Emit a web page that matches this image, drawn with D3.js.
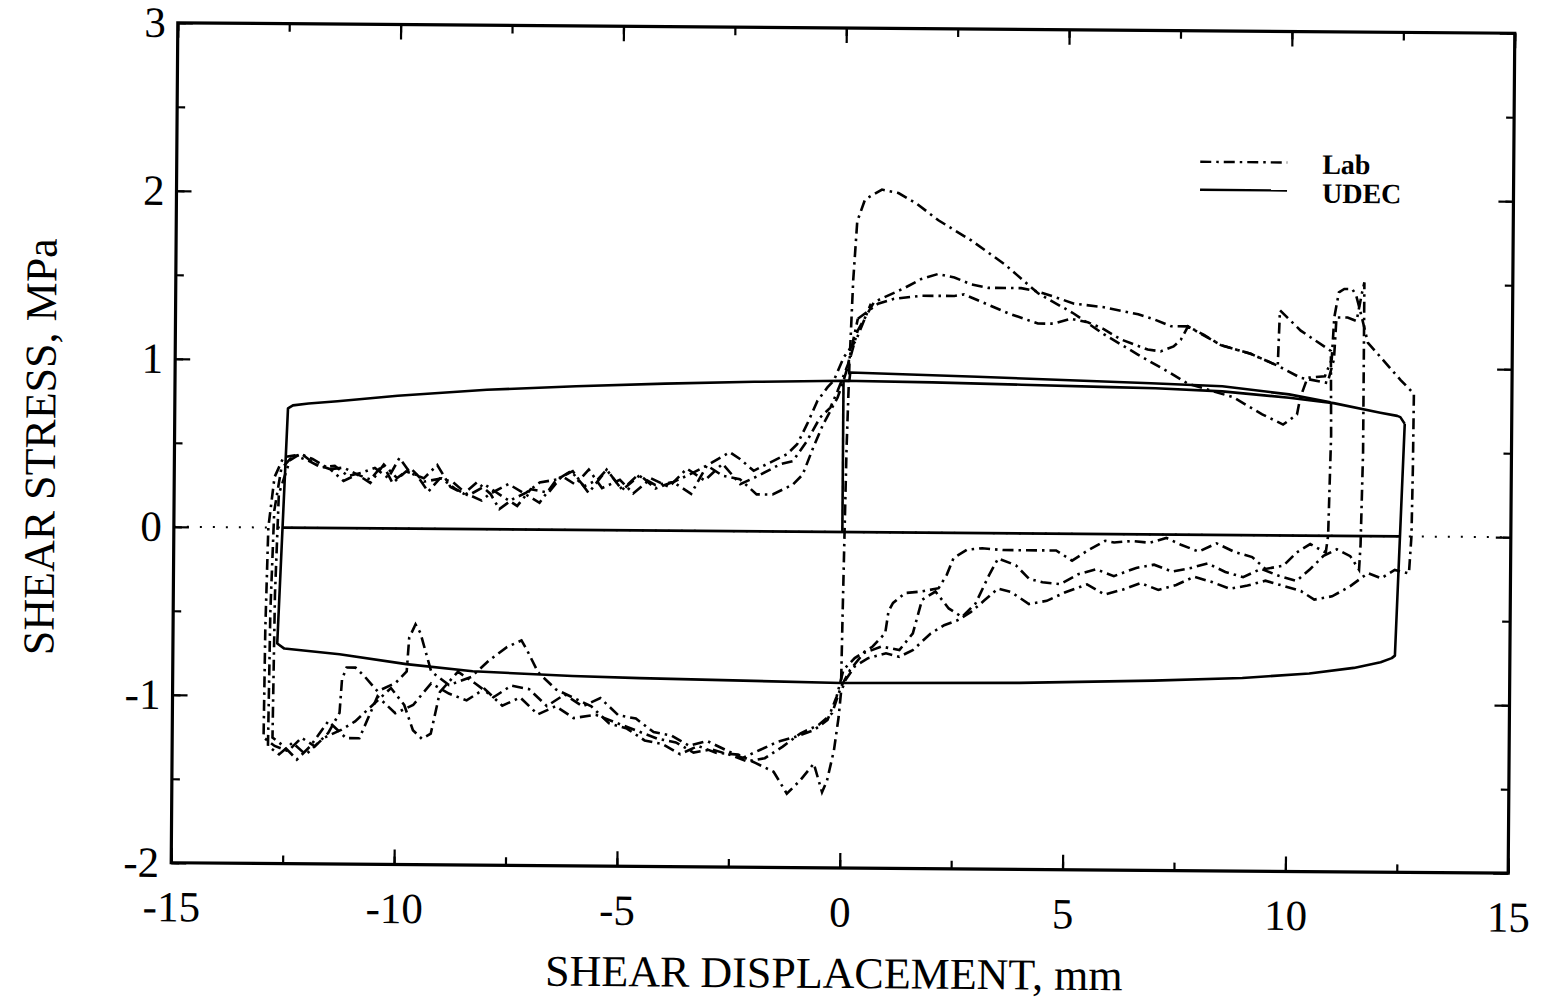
<!DOCTYPE html>
<html><head><meta charset="utf-8">
<script src="https://cdn.jsdelivr.net/npm/d3@7"></script>
<style>body{margin:0;background:#fff}svg{display:block}</style>
</head><body>
<script>
// ---------------- data ----------------
const xTicks = [-15, -10, -5, 0, 5, 10, 15];
const yTicks = [-2, -1, 0, 1, 2, 3];
const legendLabels = ["Lab", "UDEC"];

// UDEC (solid)
const udecLoop = [[12.6,0.67],[12.5,0.71],[12.43,0.717],[12.05,0.735],[11,0.79],[10,0.82],[8.5,0.855],[7,0.87],[6,0.875],[4,0.885],[2,0.895],[0,0.9],[-2,0.89],[-4,0.875],[-6,0.855],[-8,0.83],[-10,0.79],[-11.35,0.755],[-12,0.74],[-12.35,0.728],[-12.46,0.71],
  [-12.66,-0.69],[-12.5,-0.72],[-11.26,-0.751],[-9.76,-0.807],[-8.27,-0.846],[-6.03,-0.87],[-4.52,-0.879],[0,-0.899],[4,-0.89],[7,-0.87],[9,-0.85],[10.5,-0.82],[11.5,-0.785],[12.1,-0.75],[12.35,-0.725],[12.42,-0.71],[12.6,0.67]];
const udecUpper = [[0.0,0.9],[0.13,0.9],[0.15,0.95],[3,0.93],[6.9,0.9],[8.5,0.885],[10,0.84],[10.93,0.795]];
const udecStart = [[0,0],[0,0.9]];
const udecZero = [[-12.56,0],[12.52,0]];

// Lab (dash-dot), three cycles
const lab1 = [[0.0,-0.88],[0.02,-0.5],[0.05,0.0],[0.08,0.5],[0.13,1.0],[0.2,1.5],[0.28,1.85],[0.45,1.98],[0.83,2.04],[1.2,2.02],[1.6,1.96],[2.1,1.86],[2.85,1.74],[3.6,1.6],[4.35,1.43],[5.16,1.31],[5.83,1.19],[6.6,1.07],[7.34,0.96],[7.72,0.9],[8.75,0.82],[9.4,0.72],[9.87,0.66],[10.18,0.72],[10.25,0.82],[10.41,0.94],[10.8,0.95],[10.95,1.05],[11.0,1.3],[11.1,1.45],[11.22,1.47],[11.4,1.47],[11.49,1.43],[11.62,1.3],[11.76,1.15],[12.1,1.05],[12.5,0.93],[12.8,0.85],[12.79,0.4],[12.77,0.0],[12.72,-0.22],
  [12.4,-0.2],[12.1,-0.25],[11.8,-0.22],[11.4,-0.3],[11.0,-0.36],[10.6,-0.38],[10.3,-0.33],[9.9,-0.3],[9.5,-0.27],[9.1,-0.3],[8.7,-0.32],[8.3,-0.28],[7.9,-0.25],[7.5,-0.3],[7.1,-0.33],[6.7,-0.29],[6.3,-0.33],[5.9,-0.36],[5.5,-0.3],[5.0,-0.35],[4.6,-0.4],[4.2,-0.42],[3.8,-0.35],[3.5,-0.33],[3.2,-0.4],[2.9,-0.47],[2.6,-0.52],[2.3,-0.55],[2.0,-0.6],[1.6,-0.7],[1.3,-0.74],[1.0,-0.72],[0.6,-0.75],[0.3,-0.8],[0.1,-0.88],
  [0.0,-0.95],[-0.05,-1.1],[-0.15,-1.3],[-0.3,-1.48],[-0.41,-1.55],[-0.6,-1.38],[-0.9,-1.48],[-1.2,-1.56],[-1.5,-1.43],[-1.9,-1.38],[-2.3,-1.33],[-2.8,-1.32],[-3.2,-1.28],[-3.6,-1.33],[-4.0,-1.27],[-4.4,-1.25],[-4.8,-1.18],[-5.2,-1.15],[-5.6,-1.05],[-6.0,-1.0],[-6.4,-0.95],[-6.8,-0.85],[-7.05,-0.72],[-7.18,-0.66],[-7.5,-0.7],[-7.9,-0.78],[-8.3,-0.88],[-8.8,-0.93],[-9.2,-0.85],[-9.45,-0.62],[-9.56,-0.57],[-9.7,-0.65],[-9.75,-0.85],[-10.0,-0.92],[-10.4,-0.97],[-10.7,-0.88],[-10.9,-0.83],[-11.1,-0.83],[-11.2,-0.9],[-11.25,-1.1],[-11.5,-1.22],[-11.8,-1.3],[-12.1,-1.25],[-12.4,-1.33],[-12.7,-1.3],[-12.95,-1.25],
  [-12.93,-0.6],[-12.88,0.0],[-12.75,0.3],[-12.55,0.42],[-12.3,0.43],[-12.0,0.4],[-11.7,0.36],[-11.4,0.37],[-11.1,0.31],[-10.8,0.33],[-10.5,0.36],[-10.2,0.3],[-9.95,0.42],[-9.7,0.33],[-9.4,0.3],[-9.1,0.38],[-8.8,0.25],[-8.5,0.21],[-8.2,0.28],[-7.9,0.21],[-7.7,0.12],[-7.4,0.18],[-7.1,0.22],[-6.8,0.28],[-6.4,0.3],[-6.1,0.35],[-5.8,0.26],[-5.5,0.3],[-5.3,0.36],[-4.95,0.24],[-4.6,0.33],[-4.2,0.27],[-3.8,0.29],[-3.4,0.34],[-3.05,0.39],[-2.7,0.33],[-2.31,0.31],[-1.93,0.22],[-1.57,0.22],[-1.12,0.28],[-0.9,0.34],[-0.67,0.5],[-0.45,0.64],[-0.13,0.8],[0.0,0.9],[0.16,1.05]];

const lab2 = [[0.16,1.05],[0.31,1.2],[0.67,1.37],[1.35,1.455],[1.73,1.51],[2.1,1.54],[2.47,1.52],[2.85,1.48],[3.23,1.46],[3.97,1.46],[4.35,1.44],[4.71,1.41],[5.16,1.37],[5.83,1.35],[6.6,1.31],[6.96,1.28],[7.34,1.24],[7.72,1.24],[8.08,1.19],[8.46,1.13],[9.13,1.08],[9.74,1.01],[9.78,1.34],[10.25,1.22],[10.93,1.1],[10.95,0.6],[10.9,0.0],[10.85,-0.1],
  [10.5,-0.05],[10.2,-0.1],[9.9,-0.18],[9.5,-0.2],[9.2,-0.13],[8.8,-0.1],[8.4,-0.05],[8.0,-0.1],[7.6,-0.06],[7.27,-0.02],[6.9,-0.05],[6.5,-0.04],[6.1,-0.05],[5.9,-0.04],[5.5,-0.1],[5.16,-0.16],[4.8,-0.1],[4.4,-0.1],[4.0,-0.1],[3.6,-0.1],[3.14,-0.09],[2.8,-0.1],[2.5,-0.15],[2.35,-0.25],[2.17,-0.33],[1.8,-0.35],[1.42,-0.36],[1.15,-0.42],[1.05,-0.47],[0.98,-0.6],[0.7,-0.68],[0.3,-0.75],[0.05,-0.82],
  [-0.1,-0.98],[-0.3,-1.12],[-0.6,-1.18],[-1.0,-1.22],[-1.4,-1.25],[-1.8,-1.3],[-2.2,-1.35],[-2.6,-1.3],[-3.0,-1.25],[-3.4,-1.28],[-3.8,-1.22],[-4.2,-1.2],[-4.6,-1.12],[-5.0,-1.1],[-5.4,-1.0],[-5.8,-1.05],[-6.2,-0.98],[-6.6,-1.05],[-7.0,-0.95],[-7.4,-0.93],[-7.8,-1.0],[-8.2,-0.92],[-8.6,-0.85],[-9.0,-0.97],[-9.2,-1.22],[-9.4,-1.25],[-9.6,-1.2],[-9.8,-1.05],[-10.1,-0.95],[-10.5,-1.05],[-10.9,-1.15],[-11.2,-1.2],[-11.6,-1.25],[-12.0,-1.35],[-12.3,-1.28],[-12.6,-1.35],[-12.85,-1.3],
  [-12.82,-0.5],[-12.75,0.1],[-12.6,0.35],[-12.4,0.41],[-12.15,0.44],[-11.85,0.38],[-11.5,0.35],[-11.2,0.28],[-10.9,0.32],[-10.6,0.27],[-10.3,0.38],[-10.0,0.3],[-9.7,0.36],[-9.4,0.28],[-9.0,0.3],[-8.7,0.24],[-8.4,0.2],[-8.0,0.26],[-7.6,0.19],[-7.3,0.14],[-7.0,0.24],[-6.6,0.22],[-6.3,0.32],[-6.0,0.27],[-5.7,0.36],[-5.4,0.25],[-5.0,0.3],[-4.7,0.22],[-4.3,0.31],[-3.9,0.26],[-3.5,0.37],[-3.1,0.3],[-2.7,0.4],[-2.3,0.28],[-1.9,0.33],[-1.41,0.4],[-1.12,0.42],[-0.81,0.54],[-0.52,0.68],[-0.29,0.74],[-0.13,0.84],[0.1,1.0],[0.31,1.27]];

const lab3 = [[0.31,1.27],[0.76,1.36],[1.12,1.39],[1.73,1.41],[2.47,1.41],[2.69,1.42],[3.23,1.36],[3.68,1.31],[4.35,1.25],[4.71,1.25],[5.09,1.28],[5.47,1.26],[5.83,1.22],[6.21,1.16],[6.82,1.1],[7.11,1.09],[7.4,1.12],[7.56,1.16],[7.72,1.24],[8.46,1.13],[9.13,1.08],[9.74,1.01],[10.25,0.94],[10.86,0.91],[11.0,1.05],[11.05,1.3],[11.3,1.3],[11.5,1.28],[11.62,1.45],[11.67,1.51],[11.67,0.5],[11.63,-0.05],[11.6,-0.2],
  [11.4,-0.12],[11.1,-0.08],[10.8,-0.12],[10.5,-0.2],[10.2,-0.27],[9.8,-0.24],[9.4,-0.2],[9.0,-0.25],[8.6,-0.22],[8.2,-0.17],[7.8,-0.2],[7.4,-0.22],[7.0,-0.18],[6.6,-0.2],[6.1,-0.25],[5.7,-0.21],[5.3,-0.24],[4.9,-0.3],[4.5,-0.29],[4.2,-0.27],[3.9,-0.19],[3.5,-0.15],[3.3,-0.25],[3.0,-0.42],[2.7,-0.5],[2.4,-0.45],[2.1,-0.35],[1.8,-0.4],[1.6,-0.6],[1.3,-0.7],[0.9,-0.68],[0.5,-0.72],[0.2,-0.82],
  [0.0,-0.92],[-0.2,-1.08],[-0.5,-1.15],[-0.9,-1.2],[-1.3,-1.28],[-1.7,-1.35],[-2.1,-1.37],[-2.5,-1.33],[-2.9,-1.3],[-3.3,-1.32],[-3.7,-1.26],[-4.1,-1.24],[-4.5,-1.2],[-5.0,-1.15],[-5.5,-1.1],[-6.0,-1.12],[-6.4,-1.05],[-6.8,-1.1],[-7.2,-1.0],[-7.6,-1.05],[-8.0,-0.95],[-8.4,-1.02],[-8.8,-0.98],[-9.2,-0.92],[-9.6,-1.05],[-10.0,-1.1],[-10.4,-1.0],[-10.8,-1.25],[-11.1,-1.25],[-11.5,-1.15],[-11.9,-1.3],[-12.2,-1.38],[-12.5,-1.3],[-12.75,-1.25],
  [-12.72,-0.4],[-12.65,0.2],[-12.41,0.4],[-12.18,0.44],[-11.9,0.41],[-11.51,0.35],[-11.2,0.36],[-10.9,0.32],[-10.6,0.29],[-10.32,0.38],[-10.1,0.27],[-9.8,0.34],[-9.56,0.32],[-9.3,0.22],[-9.04,0.3],[-8.75,0.28],[-8.44,0.21],[-8.1,0.17],[-7.92,0.21],[-7.5,0.27],[-7.18,0.22],[-6.8,0.16],[-6.42,0.3],[-6.06,0.35],[-5.7,0.22],[-5.3,0.36],[-4.94,0.24],[-4.55,0.33],[-4.2,0.25],[-3.81,0.29],[-3.4,0.22],[-3.05,0.39],[-2.54,0.47],[-2.31,0.43],[-2.0,0.36],[-1.71,0.4],[-1.26,0.46],[-1.03,0.52],[-0.81,0.64],[-0.58,0.78],[-0.36,0.86],[-0.22,0.9],[0.0,1.04],[0.27,1.14],[0.6,1.36]];

// ---------------- drawing ----------------
const W = 1541, H = 1004;
const L = 174.5, R = 1511.5, T = 28, B = 868;
const x = d3.scaleLinear().domain([-15, 15]).range([L, R]);
const y = d3.scaleLinear().domain([-2, 3]).range([B, T]);
const FONT = "'Liberation Serif','Times New Roman',serif";

const svg = d3.select("body").append("svg").attr("width", W).attr("height", H)
  .style("font-family", FONT);
svg.append("rect").attr("width", W).attr("height", H).attr("fill", "#fff");
const g = svg.append("g").attr("transform", `rotate(0.45, ${(L+R)/2}, ${(T+B)/2})`);

const line = d3.line().x(d => x(d[0])).y(d => y(d[1]));

// zero dotted line
g.append("path").attr("d", line([[-15,0],[15,0]]))
  .attr("stroke", "#000").attr("stroke-width", 2).attr("stroke-dasharray", "2,11").attr("fill", "none");

// UDEC
[udecLoop, udecUpper, udecStart, udecZero].forEach(s => {
  g.append("path").attr("d", line(s)).attr("fill", "none").attr("stroke", "#000")
    .attr("stroke-width", 2.6).attr("stroke-linejoin", "round");
});
// Lab
[lab1, lab2, lab3].forEach(s => {
  g.append("path").attr("d", line(s)).attr("fill", "none").attr("stroke", "#000")
    .attr("stroke-width", 2.6).attr("stroke-dasharray", "11,5,2.5,5");
});

// axes (inward ticks)
function styleAxis(sel) {
  sel.select(".domain").remove();
  sel.selectAll("line").attr("stroke", "#000").attr("stroke-width", 2.2);
  sel.selectAll("text").attr("fill", "#000").style("font-size", "43px").style("font-family", FONT);
}
const fmt = d => String(d);
const xMinor = d3.range(-15, 15.01, 2.5);
const yMinor = d3.range(-2, 3.01, 0.5);
g.append("g").attr("transform", `translate(0,${B})`).call(d3.axisBottom(x).tickValues(xMinor).tickSize(-8).tickFormat("")).call(styleAxis);
g.append("g").attr("transform", `translate(0,${B})`).call(d3.axisBottom(x).tickValues(xTicks).tickSize(-15).tickPadding(28).tickFormat(fmt)).call(styleAxis);
g.append("g").attr("transform", `translate(0,${T})`).call(d3.axisTop(x).tickValues(xMinor).tickSize(-8).tickFormat("")).call(styleAxis);
g.append("g").attr("transform", `translate(0,${T})`).call(d3.axisTop(x).tickValues(xTicks).tickSize(-15).tickFormat("")).call(styleAxis);
g.append("g").attr("transform", `translate(${L},0)`).call(d3.axisLeft(y).tickValues(yMinor).tickSize(-8).tickFormat("")).call(styleAxis);
g.append("g").attr("transform", `translate(${L},0)`).call(d3.axisLeft(y).tickValues(yTicks).tickSize(-15).tickPadding(12).tickFormat(fmt)).call(styleAxis);
g.append("g").attr("transform", `translate(${R},0)`).call(d3.axisRight(y).tickValues(yMinor).tickSize(-8).tickFormat("")).call(styleAxis);
g.append("g").attr("transform", `translate(${R},0)`).call(d3.axisRight(y).tickValues(yTicks).tickSize(-15).tickFormat("")).call(styleAxis);

// frame
g.append("rect").attr("x", L).attr("y", T).attr("width", R - L).attr("height", B - T)
  .attr("fill", "none").attr("stroke", "#000").attr("stroke-width", 3.2);

// axis titles
g.append("text").attr("x", (L + R) / 2 - 5).attr("y", 988).attr("text-anchor", "middle")
  .style("font-size", "44px").text("SHEAR DISPLACEMENT, mm");
g.append("text").attr("transform", `translate(55,453) rotate(-90)`).attr("text-anchor", "middle")
  .style("font-size", "44px").text("SHEAR STRESS, MPa");

// legend
const leg = g.append("g");
leg.append("path").attr("d", `M1198,159H1285`).attr("stroke", "#000").attr("stroke-width", 2.4)
  .attr("stroke-dasharray", "11,5,2.5,5").attr("fill", "none");
leg.append("path").attr("d", `M1198,187H1285`).attr("stroke", "#000").attr("stroke-width", 2.4).attr("fill", "none");
leg.append("text").attr("x", 1320).attr("y", 170).style("font-size", "28px").style("font-weight", "bold").text(legendLabels[0]);
leg.append("text").attr("x", 1320).attr("y", 199).style("font-size", "28px").style("font-weight", "bold").text(legendLabels[1]);
</script>
</body></html>
